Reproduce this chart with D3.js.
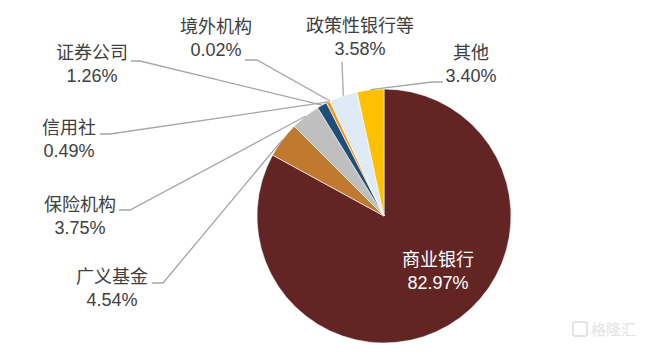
<!DOCTYPE html>
<html>
<head>
<meta charset="utf-8">
<script src="https://cdn.jsdelivr.net/npm/d3@7"></script>
<style>
  html, body { margin: 0; padding: 0; background: #fff; }
  text { font-family: "Liberation Sans", "Noto Sans CJK SC", sans-serif; }
</style>
</head>
<body>
<div id="chart"></div>
<script>
// 数据
let categories = ['商业银行', '广义基金', '保险机构', '证券公司', '信用社', '境外机构', '政策性银行等', '其他'];
let values = [82.97, 4.54, 3.75, 1.26, 0.49, 0.02, 3.58, 3.40];
let valueLabels = ['82.97%', '4.54%', '3.75%', '1.26%', '0.49%', '0.02%', '3.58%', '3.40%'];
let colors = ['#632523', '#C0792F', '#BFBFBF', '#1F4E79', '#F7941D', '#8FAADC', '#DEEBF7', '#FFC000'];

// 标签位置 (名称中心x, 名称y, 引导线起点)
let labelLayout = [
  { x: 438, y: 260, line: null },
  { x: 112, y: 277, line: [[152, 283], [163, 283]] },
  { x: 80, y: 205, line: [[119, 210], [130, 210]] },
  { x: 92, y: 53, line: [[131, 61], [140, 61]] },
  { x: 69, y: 128, line: [[100, 134], [110, 134]] },
  { x: 216, y: 27, line: [[245, 60], [257, 60]] },
  { x: 360, y: 26, line: [[342, 62]] },
  { x: 471, y: 53, line: [[443, 82], [432, 82]] }
];

let width = 646;
let height = 352;
let cx = 384, cy = 216, radius = 127;

const svg = d3.select('#chart').append('svg')
  .attr('width', width)
  .attr('height', height);

let data = categories.map((c, i) => ({ name: c, value: values[i], label: valueLabels[i], color: colors[i], layout: labelLayout[i] }));

let pie = d3.pie()
  .sort(null)
  .value(d => d.value)
  .startAngle(0)
  .endAngle(2 * Math.PI);

let arc = d3.arc().innerRadius(0).outerRadius(radius);
let edge = d3.arc().innerRadius(radius).outerRadius(radius);

let arcs = pie(data);

let g = svg.append('g').attr('transform', `translate(${cx}, ${cy})`);

g.selectAll('path.slice')
  .data(arcs)
  .join('path')
  .attr('class', 'slice')
  .attr('d', arc)
  .attr('fill', d => d.data.color)
  .attr('stroke', '#fff')
  .attr('stroke-width', 0.6);

// 引导线
let line = d3.line();
svg.selectAll('path.leader')
  .data(arcs.filter(d => d.data.layout.line))
  .join('path')
  .attr('class', 'leader')
  .attr('fill', 'none')
  .attr('stroke', '#A6A6A6')
  .attr('stroke-width', 1.3)
  .attr('d', d => {
    let p = edge.centroid(d);
    let pts = d.data.layout.line.concat([[p[0] + cx, p[1] + cy]]);
    return line(pts);
  });

// 标签
let labels = svg.selectAll('g.label')
  .data(arcs)
  .join('g')
  .attr('class', 'label')
  .attr('transform', d => `translate(${d.data.layout.x}, ${d.data.layout.y})`);

labels.append('text')
  .attr('text-anchor', 'middle')
  .attr('dominant-baseline', 'central')
  .attr('font-size', 18)
  .attr('fill', (d, i) => i === 0 ? '#fff' : '#404040')
  .text(d => d.data.name);

labels.append('text')
  .attr('text-anchor', 'middle')
  .attr('dominant-baseline', 'central')
  .attr('y', 23)
  .attr('font-size', 18)
  .attr('fill', (d, i) => i === 0 ? '#fff' : '#404040')
  .text(d => d.data.label);

// 水印
let wm = svg.append('g').attr('transform', 'translate(573, 322)');
wm.append('rect')
  .attr('x', 0).attr('y', 0).attr('width', 14).attr('height', 14).attr('rx', 2)
  .attr('fill', 'none').attr('stroke', '#E3E3E3').attr('stroke-width', 2);
wm.append('text')
  .attr('x', 18).attr('y', 7)
  .attr('dominant-baseline', 'central')
  .attr('font-size', 15)
  .attr('fill', '#E3E3E3')
  .text('格隆汇');
</script>
</body>
</html>
